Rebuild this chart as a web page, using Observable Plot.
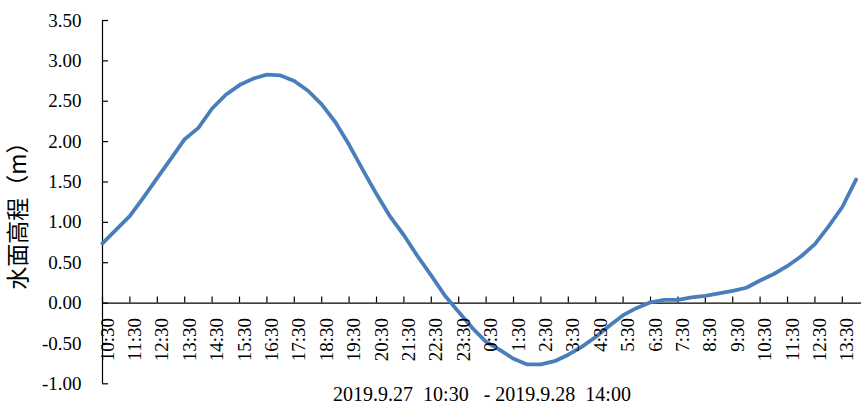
<!DOCTYPE html>
<html><head><meta charset="utf-8">
<script src="https://cdn.jsdelivr.net/npm/d3@7"></script>
<script src="https://cdn.jsdelivr.net/npm/@observablehq/plot@0.6"></script>
<style>html,body{margin:0;padding:0;background:#fff;} svg{display:block;} svg text{text-spacing-trim: space-all;}</style>
</head><body><div id="chart"></div>
<script>
// Observation times (2019.9.27 10:30 – 2019.9.28 14:00), half-hourly
const timeLabels = [
  "10:30","11:00","11:30","12:00","12:30","13:00","13:30","14:00","14:30","15:00",
  "15:30","16:00","16:30","17:00","17:30","18:00","18:30","19:00","19:30","20:00",
  "20:30","21:00","21:30","22:00","22:30","23:00","23:30","0:00","0:30","1:00",
  "1:30","2:00","2:30","3:00","3:30","4:00","4:30","5:00","5:30","6:00",
  "6:30","7:00","7:30","8:00","8:30","9:00","9:30","10:00","10:30","11:00",
  "11:30","12:00","12:30","13:00","13:30","14:00"
];
// Water surface elevation (m)
const levels = [
  0.74, 0.91, 1.08, 1.31, 1.55, 1.79, 2.03, 2.17, 2.41, 2.58,
  2.70, 2.78, 2.83, 2.82, 2.75, 2.63, 2.46, 2.24, 1.96, 1.65,
  1.35, 1.07, 0.84, 0.58, 0.34, 0.09, -0.11, -0.31, -0.48, -0.58,
  -0.69, -0.76, -0.76, -0.72, -0.64, -0.54, -0.42, -0.28, -0.15, -0.06,
  0.01, 0.04, 0.04, 0.07, 0.09, 0.12, 0.15, 0.19, 0.28, 0.36,
  0.46, 0.58, 0.73, 0.95, 1.19, 1.53
];
const xTickLabels = [
  "10:30","11:30","12:30","13:30","14:30","15:30","16:30","17:30","18:30","19:30",
  "20:30","21:30","22:30","23:30","0:30","1:30","2:30","3:30","4:30","5:30",
  "6:30","7:30","8:30","9:30","10:30","11:30","12:30","13:30"
];
const yTicks = [-1.0, -0.5, 0.0, 0.5, 1.0, 1.5, 2.0, 2.5, 3.0, 3.5];
const xTitle = "2019.9.27  10:30   - 2019.9.28  14:00";
const yTitle = "水面高程（m）";

function toDates(labels) {
  let day = 27, prev = -1;
  return labels.map(s => {
    const [h, m] = s.split(":").map(Number);
    const t = h * 60 + m;
    if (prev >= 0 && t < prev) day++;
    prev = t;
    return new Date(Date.UTC(2019, 8, day, h, m));
  });
}
const times = toDates(timeLabels);
const tickDates = toDates(xTickLabels);
const rows = times.map((t, i) => ({t, v: levels[i]}));
const xTicks = tickDates.map((t, i) => ({t, label: xTickLabels[i]}));
const start = times[0];
const end = new Date(start.getTime() + 27.7 * 3600 * 1000);

const serif = "'Liberation Serif','Times New Roman',serif";
const chart = Plot.plot({
  width: 861, height: 412,
  marginLeft: 102, marginRight: 0, marginTop: 20, marginBottom: 28.7,
  x: {type: "utc", domain: [start, end], axis: null},
  y: {domain: [-1, 3.5], axis: null},
  style: {background: "#fff"},
  marks: [
    Plot.ruleY([0], {stroke: "#000", strokeWidth: 1.2}),
    Plot.ruleX([start], {y1: -1, y2: 3.5, stroke: "#000", strokeWidth: 1.2}),
    Plot.ruleY(yTicks, {y: d => d, x1: () => start, x2: () => start, insetRight: -6, stroke: "#000", strokeWidth: 1.2}),
    Plot.ruleX(xTicks, {x: "t", y1: () => 0, y2: () => 0, insetTop: -6, stroke: "#000", strokeWidth: 1.2}),
    Plot.line(rows, {x: "t", y: "v", stroke: "#4a7ebb", strokeWidth: 3.8, strokeLinejoin: "round", strokeLinecap: "round"}),
    Plot.text(yTicks, {x: () => start, y: d => d, text: d => d.toFixed(2), textAnchor: "end", dx: -21, fontSize: 19, fontFamily: serif, fill: "#000"}),
    Plot.text(xTicks, {x: "t", y: () => 0, text: "label", rotate: -90, textAnchor: "end", dx: 5, dy: 15, fontSize: 19, fontFamily: serif, fill: "#000"}),
    Plot.text([yTitle], {frameAnchor: "left", textAnchor: "middle", rotate: -90, dx: -84, dy: 8, fontSize: 23, fontFamily: "'Noto Sans CJK SC', sans-serif", fill: "#000"}),
    Plot.text([xTitle], {frameAnchor: "bottom", dy: 17, fontSize: 20, fontFamily: serif, fill: "#000"})
  ]
});
document.getElementById("chart").appendChild(chart);
</script>
</body></html>
